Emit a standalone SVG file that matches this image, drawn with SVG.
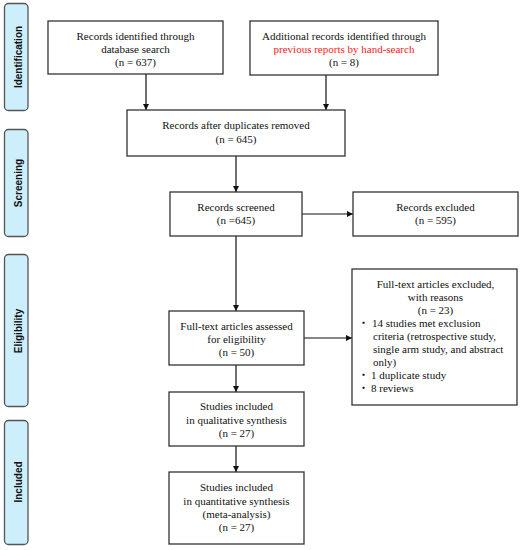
<svg xmlns="http://www.w3.org/2000/svg" width="523" height="550" viewBox="0 0 523 550">
<defs>
<style>
.side{fill:#cdeefb;stroke:#555;stroke-width:1.3}
.sl{font-family:"Liberation Sans",Arial,sans-serif;font-weight:bold;font-size:10px;fill:#111;text-anchor:middle}
.box{fill:#fff;stroke:#333;stroke-width:1.3}
.t{font-family:"Liberation Serif","Times New Roman",serif;font-size:11px;fill:#111;text-anchor:middle}
.tl{font-family:"Liberation Serif","Times New Roman","Noto Sans CJK JP",serif;font-size:11px;fill:#111}
.red{fill:#f22}
.c{stroke:#111;stroke-width:1.2;fill:none;marker-end:url(#ah)}
</style>
<marker id="ah" markerWidth="6" markerHeight="6" refX="6" refY="3" orient="auto" markerUnits="userSpaceOnUse">
<path d="M0,0 L6,3 L0,6 Z" fill="#111"/>
</marker>
</defs>
<rect width="523" height="550" fill="#fff"/>
<g id="side-identification"><rect class="side" x="4.5" y="3.5" width="23.5" height="107" rx="4"/><text class="sl" transform="translate(22,57) rotate(-90)">Identification</text></g>
<g id="side-screening"><rect class="side" x="4.5" y="129.5" width="23.5" height="107" rx="4"/><text class="sl" transform="translate(22,183) rotate(-90)">Screening</text></g>
<g id="side-eligibility"><rect class="side" x="4.5" y="254.5" width="23.5" height="152" rx="4"/><text class="sl" transform="translate(22,331) rotate(-90)">Eligibility</text></g>
<g id="side-included"><rect class="side" x="4.5" y="420.5" width="23.5" height="124" rx="4"/><text class="sl" transform="translate(22,482) rotate(-90)">Included</text></g>

<g id="connectors">
<line class="c" x1="146" y1="74" x2="146" y2="110"/>
<line class="c" x1="326" y1="75" x2="326" y2="110"/>
<line class="c" x1="236" y1="156" x2="236" y2="192"/>
<line class="c" x1="302" y1="214" x2="353" y2="214"/>
<line class="c" x1="236" y1="236" x2="236" y2="311"/>
<line class="c" x1="304" y1="338" x2="352" y2="338"/>
<line class="c" x1="236" y1="365" x2="236" y2="392"/>
<line class="c" x1="236" y1="446" x2="236" y2="472"/>
</g>

<g id="n-database"><rect class="box" x="48" y="21" width="175" height="53"/>
<text class="t" x="135.5" y="40">Records identified through</text>
<text class="t" x="135.5" y="53">database search</text>
<text class="t" x="135.5" y="66">(n = 637)</text></g>

<g id="n-additional"><rect class="box" x="250" y="21" width="188" height="54"/>
<text class="t" x="344" y="40">Additional records identified through</text>
<text class="t red" x="344" y="53">previous reports by hand-search</text>
<text class="t" x="344" y="66">(n = 8)</text></g>

<g id="n-duplicates"><rect class="box" x="127" y="110" width="218" height="46"/>
<text class="t" x="236" y="129">Records after duplicates removed</text>
<text class="t" x="236" y="143">(n = 645)</text></g>

<g id="n-screened"><rect class="box" x="170" y="192" width="132" height="44"/>
<text class="t" x="236" y="211">Records screened</text>
<text class="t" x="236" y="224">(n =645)</text></g>

<g id="n-excluded"><rect class="box" x="353" y="192" width="165" height="44"/>
<text class="t" x="435.5" y="211">Records excluded</text>
<text class="t" x="435.5" y="224">(n = 595)</text></g>

<g id="n-fulltext-excluded"><rect class="box" x="352" y="269" width="165" height="136"/>
<text class="t" x="435.5" y="288">Full-text articles excluded,</text>
<text class="t" x="435.5" y="301">with reasons</text>
<text class="t" x="435.5" y="314">(n = 23)</text>
<text class="tl" y="327"><tspan x="358">・</tspan><tspan x="372">14 studies met exclusion</tspan></text>
<text class="tl" x="373" y="340">criteria (retrospective study,</text>
<text class="tl" x="373" y="353">single arm study, and abstract</text>
<text class="tl" x="373" y="366">only)</text>
<text class="tl" y="379"><tspan x="358">・</tspan><tspan x="371">1 duplicate study</tspan></text>
<text class="tl" y="392"><tspan x="358">・</tspan><tspan x="371">8 reviews</tspan></text></g>

<g id="n-assessed"><rect class="box" x="169" y="311" width="135" height="54"/>
<text class="t" x="236.5" y="330">Full-text articles assessed</text>
<text class="t" x="236.5" y="343">for eligibility</text>
<text class="t" x="236.5" y="356">(n = 50)</text></g>

<g id="n-qualitative"><rect class="box" x="169" y="392" width="135" height="54"/>
<text class="t" x="236.5" y="410">Studies included</text>
<text class="t" x="236.5" y="424">in qualitative synthesis</text>
<text class="t" x="236.5" y="437">(n = 27)</text></g>

<g id="n-quantitative"><rect class="box" x="169" y="472" width="135" height="72"/>
<text class="t" x="236.5" y="491">Studies included</text>
<text class="t" x="236.5" y="504.5">in quantitative synthesis</text>
<text class="t" x="236.5" y="518">(meta-analysis)</text>
<text class="t" x="236.5" y="531">(n = 27)</text></g>
</svg>
